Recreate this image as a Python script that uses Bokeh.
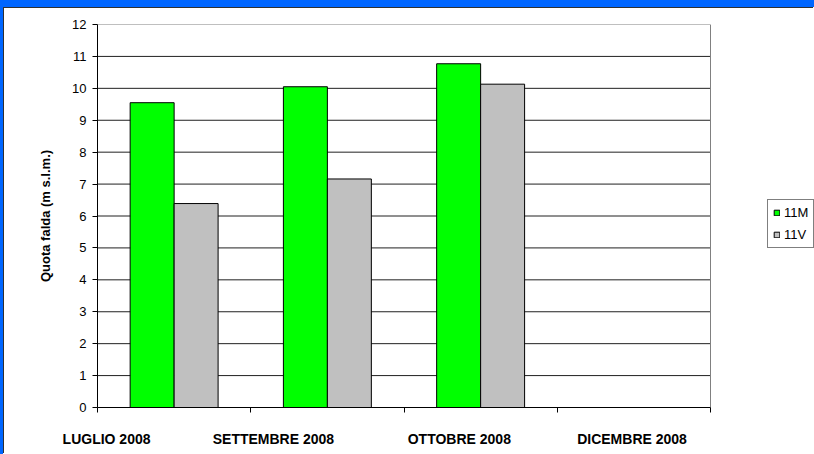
from bokeh.plotting import figure
from bokeh.models import Range1d, LinearAxis, FixedTicker, Legend, LegendItem, ColumnDataSource
from bokeh.embed import file_html
from bokeh.resources import INLINE

# ---- data ----
categories = ["LUGLIO 2008", "SETTEMBRE 2008", "OTTOBRE 2008", "DICEMBRE 2008"]
series_names = ["11M", "11V"]
series_colors = ["#00FF00", "#C0C0C0"]
values_11m = [9.55, 10.05, 10.77, None]
values_11v = [6.39, 7.16, 10.13, None]
y_ticks = list(range(0, 13))

# ---- layout constants ----
BAR_W = 0.287
BAR_SHIFT = 0.1435
LABEL_SHIFT = [-0.441, -0.352, -0.139, -0.012]   # month label offset from slot centre
FONT = "Liberation Sans"
W, H = 810, 446
LEFT, TOP, BOTTOM = 93, 16, 47
PLOT_PX = 613                     # width of the bar area in pixels
n = len(categories)
x_end = n * (W - LEFT) / PLOT_PX  # frame continues to the right for the legend

def series_source(vals, shift):
    xs, tops = [], []
    for i, v in enumerate(vals):
        if v is not None:
            xs.append(i + 0.5 + shift)
            tops.append(v)
    return ColumnDataSource(dict(x=xs, top=tops))

p = figure(width=W, height=H, x_range=Range1d(0, x_end),
           y_range=Range1d(0, y_ticks[-1]), output_backend="svg", toolbar_location=None,
           min_border_left=LEFT, min_border_right=0, min_border_top=TOP,
           min_border_bottom=BOTTOM)
p.background_fill_color = "white"
p.border_fill_color = "white"
p.outline_line_color = None
p.grid.visible = False

# horizontal gridlines over the bar area only
gl = y_ticks[1:-1]
p.segment(x0=[0] * len(gl), x1=[n] * len(gl), y0=gl, y1=gl, line_color="#202020", line_width=1)
# grey plot-area border (top and right)
p.segment(x0=[0, n], x1=[n, n], y0=[y_ticks[-1], 0], y1=[y_ticks[-1], y_ticks[-1]],
          line_color="#808080", line_width=1)

r1 = p.vbar(x="x", top="top", width=BAR_W, source=series_source(values_11m, -BAR_SHIFT),
            fill_color=series_colors[0], line_color="black", line_width=1)
r2 = p.vbar(x="x", top="top", width=BAR_W, source=series_source(values_11v, BAR_SHIFT),
            fill_color=series_colors[1], line_color="black", line_width=1)

# y axis
ya = p.yaxis[0]
ya.ticker = FixedTicker(ticks=y_ticks)
ya.major_tick_out = 5
ya.major_tick_in = 0
ya.minor_tick_line_color = None
ya.axis_line_color = "black"
ya.major_tick_line_color = "black"
ya.major_label_text_font = FONT
ya.major_label_text_font_size = "13px"
ya.major_label_text_color = "black"
ya.major_label_standoff = 6
ya.axis_label = "Quota falda (m s.l.m.)"
ya.axis_label_text_font = FONT
ya.axis_label_text_font_size = "13px"
ya.axis_label_text_font_style = "bold"
ya.axis_label_text_color = "black"
ya.axis_label_standoff = 16

# x axis with boundary ticks
xa = p.xaxis[0]
xa.ticker = FixedTicker(ticks=list(range(n + 1)))
xa.bounds = (0, n)
xa.major_tick_out = 5
xa.major_tick_in = 0
xa.minor_tick_line_color = None
xa.axis_line_color = "black"
xa.major_tick_line_color = "black"
xa.major_label_text_font_size = "1px"
xa.major_label_text_color = None
xa.major_label_standoff = 0

# month labels axis
label_pos = [round(i + 0.5 + s, 3) for i, s in enumerate(LABEL_SHIFT)]
la = LinearAxis(ticker=FixedTicker(ticks=label_pos),
                major_label_overrides={pos: c for pos, c in zip(label_pos, categories)})
la.axis_line_color = None
la.major_tick_line_color = None
la.minor_tick_line_color = None
la.major_label_text_font = FONT
la.major_label_text_font_size = "14px"
la.major_label_text_font_style = "bold"
la.major_label_text_color = "black"
la.major_label_standoff = 12
p.add_layout(la, "below")

legend = Legend(items=[LegendItem(label=nm, renderers=[r]) for nm, r in zip(series_names, [r1, r2])],
                location=(670, 159))
legend.border_line_color = "black"
legend.border_line_width = 1
legend.background_fill_color = "white"
legend.background_fill_alpha = 1
legend.padding = 5
legend.margin = 0
legend.spacing = 7
legend.glyph_width = 7
legend.glyph_height = 7
legend.label_height = 15
legend.label_standoff = 4
legend.label_text_font = FONT
legend.label_text_font_size = "13px"
legend.label_text_color = "black"
p.add_layout(legend, "center")

p.styles = {"box-shadow": "-1px -1px 0 0 #303030"}

html = file_html(p, INLINE)
css = ("<style>html{margin:0;padding:0;overflow:hidden;background:white;}"
       "body{margin:0;overflow:hidden;background:white;"
       "border-top:7px solid #0066ff;border-left:3px solid #0066ff;"
       "padding:1px 0 0 1px;}</style></head>")
html = html.replace("</head>", css, 1)
open("out.html", "w").write(html)
